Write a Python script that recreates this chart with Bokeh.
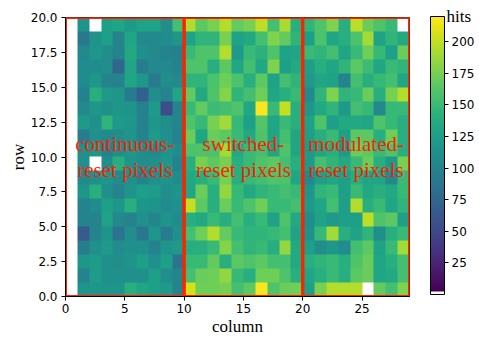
import numpy as np
from bokeh.plotting import figure
from bokeh.models import (LinearColorMapper, ColorBar, FixedTicker, Range1d,
                          PrintfTickFormatter)
from bokeh.palettes import Viridis256
from bokeh.embed import file_html
from bokeh.resources import INLINE
from bokeh.core.properties import value

nan = float("nan")

# hits per pixel, one list per row, listed from the top row (19) down to row 0
row_19 = [nan, 115, nan, 125, 130, 120, 128, 128, 110, 155, 195, 165, 175, 195, 168, 175, 198, 155, 192, 140, 145, 160, 178, 140, 198, 170, 160, 150, nan]
row_18 = [nan, 90, 115, 125, 100, 130, 105, 105, 108, 118, 128, 145, 145, 175, 128, 135, 155, 178, 168, 145, 125, 158, 130, 140, 158, 190, 128, 145, 135]
row_17 = [nan, 105, 118, 110, 100, 135, 112, 105, 100, 98, 150, 160, 160, 195, 120, 150, 142, 160, 128, 130, 150, 145, 155, 130, 150, 172, 148, 125, 170]
row_16 = [nan, 108, 108, 110, 75, 130, 95, 105, 105, 100, 160, 160, 140, 165, 132, 155, 132, 178, 125, 135, 125, 140, 130, 145, 165, 152, 130, 150, 145]
row_15 = [nan, 108, 118, 100, 100, 130, 118, 92, 110, 105, 145, 145, 158, 172, 158, 140, 165, 128, 155, 145, 120, 130, 128, 100, 155, 140, 148, 155, 130]
row_14 = [nan, 98, 140, 120, 118, 92, 70, 110, 100, 130, 168, 135, 160, 180, 145, 155, 172, 130, 140, 150, 105, 145, 178, 145, 148, 170, 140, 175, 195]
row_13 = [nan, 105, 118, 112, 118, 115, 98, 120, 55, 100, 150, 168, 152, 155, 160, 132, 218, 150, 200, 140, 118, 135, 145, 120, 155, 148, 105, 148, 150]
row_12 = [nan, 120, 112, 145, 120, 118, 98, 118, 110, 102, 160, 148, 175, 190, 148, 125, 162, 130, 150, 140, 128, 160, 125, 135, 135, 130, 160, 148, 140]
row_11 = [nan, 95, 112, 105, 110, 115, 100, 120, 112, 100, 170, 130, 170, 165, 150, 135, 160, 130, 155, 130, 125, 140, 150, 125, 165, 165, 140, 172, 140]
row_10 = [nan, 112, 118, 98, 110, 118, 110, 105, 115, 108, 158, 160, 158, 190, 135, 150, 155, 130, 160, 130, 120, 130, 140, 120, 170, 165, 150, 160, 140]
row_09 = [nan, 112, nan, 110, 140, 115, 110, 112, 118, 100, 140, 175, 165, 175, 140, 150, 160, 165, 155, 140, 120, 155, 145, 135, 150, 170, 140, 120, 175]
row_08 = [nan, 105, 112, 118, 108, 112, 100, 112, 115, 108, 135, 140, 150, 175, 140, 150, 155, 160, 158, 130, 105, 125, 130, 125, 140, 130, 130, 105, 150]
row_07 = [nan, 118, 140, 112, 100, 115, 125, 122, 110, 115, 130, 170, 140, 185, 148, 135, 145, 150, 155, 150, 118, 145, 150, 125, 150, 135, 140, 135, 150]
row_06 = [nan, 100, 108, 125, 118, 140, 118, 115, 108, 112, 200, 165, 140, 170, 150, 160, 172, 150, 150, 155, 120, 130, 155, 125, 195, 140, 150, 130, 145]
row_05 = [nan, 100, 100, 128, 105, 100, 112, 102, 115, 108, 140, 135, 150, 140, 155, 140, 150, 128, 160, 135, 110, 128, 120, 125, 125, 198, 160, 165, 125]
row_04 = [nan, 65, 100, 115, 85, 110, 88, 118, 95, 112, 155, 172, 195, 168, 150, 145, 145, 148, 155, 128, 112, 148, 190, 140, 128, 145, 110, 140, 150]
row_03 = [nan, 95, 112, 120, 108, 112, 112, 100, 115, 120, 138, 140, 150, 180, 155, 145, 150, 138, 185, 135, 125, 110, 118, 108, 155, 165, 128, 150, 190]
row_02 = [nan, 118, 122, 112, 110, 115, 125, 112, 125, 85, 150, 150, 168, 140, 165, 160, 165, 155, 155, 135, 140, 145, 150, 140, 160, 170, 130, 140, 155]
row_01 = [nan, 100, 122, 112, 112, 112, 112, 125, 110, 102, 155, 170, 172, 185, 148, 140, 172, 172, 160, 140, 130, 140, 150, 140, 165, 170, 130, 135, 155]
row_00 = [nan, 115, 118, 115, 115, 140, 130, 125, 120, 100, 205, 172, 172, 175, 155, 165, 218, 160, 170, 172, 125, 175, 195, 195, 195, nan, 168, 155, 178]

rows_top_down = [row_19, row_18, row_17, row_16, row_15, row_14, row_13, row_12, row_11, row_10,
                 row_09, row_08, row_07, row_06, row_05, row_04, row_03, row_02, row_01, row_00]

n_cols = 29
n_rows = 20
region_left = [0, 10, 20]
region_right = [10, 20, 29]
region_names = ["continuous-\nreset pixels", "switched-\nreset pixels", "modulated-\nreset pixels"]
region_label_x = [5, 15, 24.5]
region_label_y = [10, 10, 10]
x_ticks = [0, 5, 10, 15, 20, 25]
y_ticks = [0, 2.5, 5, 7.5, 10, 12.5, 15, 17.5, 20]
cbar_ticks = [25, 50, 75, 100, 125, 150, 175, 200]
cbar_title = "hits"
hits_min, hits_max = 0, 220

img = np.array(rows_top_down[::-1], dtype=float)

RED = "#ff2200"
SERIF = "Liberation Serif"

p = figure(width=479, height=338, x_range=Range1d(0, n_cols), y_range=Range1d(0, n_rows),
           output_backend="svg", toolbar_location=None,
           min_border_left=65, min_border_top=17, min_border_bottom=42, min_border_right=70)
p.grid.visible = False
p.outline_line_color = "black"
p.background_fill_color = "white"

mapper = LinearColorMapper(palette=["#ffffff"] * 3 + list(Viridis256), low=hits_min, high=hits_max,
                           nan_color="white")
p.image(image=[img], x=0, y=0, dw=n_cols, dh=n_rows, color_mapper=mapper)

p.quad(left=region_left, right=region_right, bottom=0, top=n_rows, fill_alpha=0,
       line_color=RED, line_width=3)

p.text(x=region_label_x, y=region_label_y, text=region_names, text_align="center",
       text_baseline="middle", text_font=value(SERIF), text_font_size="21px",
       text_color=RED, text_line_height=1.1)

for ax in (p.xaxis[0], p.yaxis[0]):
    ax.major_tick_out = 4
    ax.major_tick_in = 0
    ax.minor_tick_line_color = None
    ax.major_tick_line_color = "black"
    ax.axis_line_color = "black"
    ax.major_label_text_font = "DejaVu Sans"
    ax.major_label_text_font_size = "12px"
    ax.major_label_text_color = "black"
    ax.axis_label_text_font = SERIF
    ax.axis_label_text_font_size = "17px"
    ax.axis_label_text_font_style = "normal"
    ax.axis_label_text_color = "black"

p.xaxis.ticker = FixedTicker(ticks=x_ticks)
p.yaxis.ticker = FixedTicker(ticks=y_ticks)
p.yaxis.formatter = PrintfTickFormatter(format="%.1f")
p.xaxis.axis_label = "column"
p.yaxis.axis_label = "row"
p.xaxis.major_label_standoff = 3
p.yaxis.major_label_standoff = 4
p.xaxis.axis_label_standoff = 1
p.yaxis.axis_label_standoff = 0

cb = ColorBar(color_mapper=mapper, ticker=FixedTicker(ticks=cbar_ticks), width=14, height=278,
              location=(21, 2), padding=0, margin=0, bar_line_color="black",
              major_tick_out=4, major_tick_in=0, major_tick_line_color="black",
              minor_tick_line_color=None, label_standoff=3,
              major_label_text_font="DejaVu Sans", major_label_text_font_size="12px",
              major_label_text_color="black", background_fill_alpha=0, border_line_color=None)
p.add_layout(cb, "right")

# colour-bar title "hits", drawn as the only label of an invisible helper bar
title_mapper = LinearColorMapper(palette=["#ffffff"], low=0, high=2)
cb_title = ColorBar(color_mapper=title_mapper, ticker=FixedTicker(ticks=[1]),
                    major_label_overrides={1: cbar_title}, width=1, height=10,
                    orientation="vertical",
                    location=(380, -4), padding=0, margin=0, scale_alpha=0,
                    bar_line_color=None, major_tick_line_color=None, minor_tick_line_color=None,
                    major_tick_out=0, major_tick_in=0, label_standoff=0,
                    major_label_text_font=SERIF, major_label_text_font_size="17px",
                    major_label_text_color="black", background_fill_alpha=0,
                    border_line_color=None)
p.add_layout(cb_title, "above")

open("out.html", "w").write(file_html(p, INLINE))
